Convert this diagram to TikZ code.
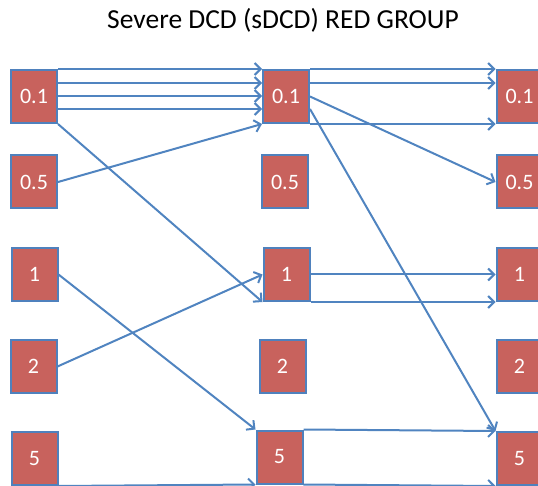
\documentclass[tikz,border=0pt]{standalone}
\usepackage{fontspec}
\setmainfont{Carlito}
\usetikzlibrary{arrows.meta}
\definecolor{boxred}{RGB}{200,98,93}
\definecolor{boxblue}{RGB}{79,129,189}
\definecolor{linkblue}{RGB}{80,132,192}
\tikzset{
  state/.style={rectangle, draw=boxblue, line width=2pt, fill=boxred,
    minimum width=46pt, minimum height=53pt, inner sep=0pt,
    text=white, font=\fontsize{22}{24}\selectfont},
  link/.style={draw=linkblue, line width=2pt,
    -{Straight Barb[length=6pt,width=12pt,line width=2pt]}},
}
\begin{document}
\begin{tikzpicture}[x=1pt,y=-1pt]
\useasboundingbox (0,0) rectangle (538,486);
\node[font=\fontsize{27.5}{30}\selectfont, anchor=base] (title) at (283,28.5) {Severe DCD (sDCD) RED GROUP};

% first column
\node[state] (a01) at (34,96.5) {0.1};
\node[state] (a05) at (34,182) {0.5};
\node[state] (a1)  at (34.5,274.5) {1};
\node[state] (a2)  at (33.5,366.5) {2};
\node[state] (a5)  at (34.5,458.5) {5};

% second column
\node[state] (b01) at (286,96.5) {0.1};
\node[state] (b05) at (285,182) {0.5};
\node[state] (b1)  at (286.5,274.5) {1};
\node[state] (b2)  at (282.5,366.5) {2};
\node[state] (b5)  at (279.5,457) {5};

% third column
\node[state] (c01) at (519.5,96.5) {0.1};
\node[state] (c05) at (519.5,182) {0.5};
\node[state] (c1)  at (519.5,274.5) {1};
\node[state] (c2)  at (519.5,366.5) {2};
\node[state] (c5)  at (519.5,458.5) {5};

% first to second column
\draw[link] (a01.north east) -- (b01.north west);
\draw[link] ([yshift=-14pt]a01.north east) -- ([yshift=-14pt]b01.north west);
\draw[link] ([yshift=-27pt]a01.north east) -- ([yshift=-27pt]b01.north west);
\draw[link] ([yshift=-40pt]a01.north east) -- ([yshift=-40pt]b01.north west);
\draw[link] (a05.east) -- (b01.south west);
\draw[link] (a01.south east) -- (b1.south west);
\draw[link] (a1.east) -- (b5.north west);
\draw[link] (a2.east) -- (b1.west);
\draw[link] (a5.south east) -- (b5.south west);

% second to third column
\draw[link] (b01.north east) -- (c01.north west);
\draw[link] ([yshift=-14pt]b01.north east) -- ([yshift=-14pt]c01.north west);
\draw[link] (b01.south east) -- (c01.south west);
\draw[link] (b01.east) -- (c05.west);
\draw[link] ([yshift=-40pt]b01.north east) -- (c5.north west);
\draw[link] (b1.east) -- (c1.west);
\draw[link] (b1.south east) -- (c1.south west);
\draw[link] (b5.north east) -- (c5.north west);
\draw[link] (b5.south east) -- (c5.south west);
\end{tikzpicture}
\end{document}
